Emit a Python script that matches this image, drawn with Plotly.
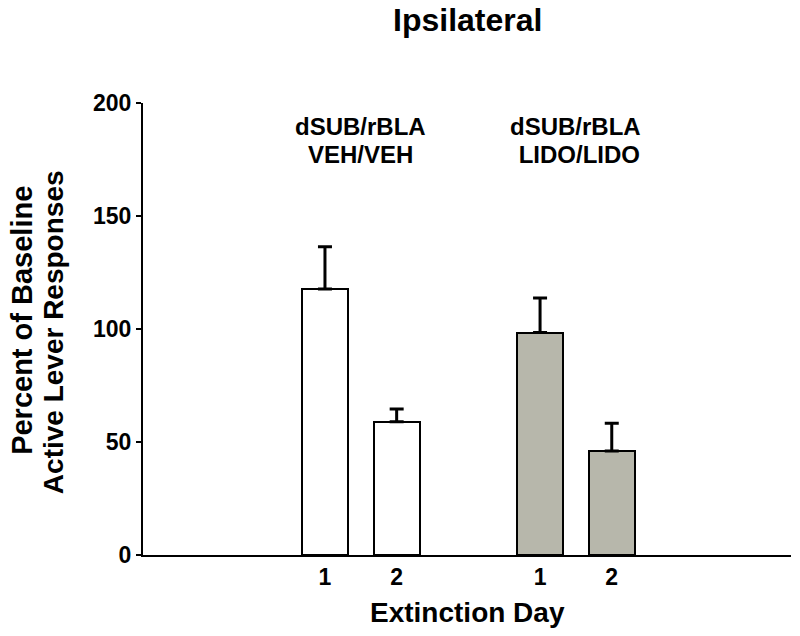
import plotly.graph_objects as go

# ---- data ----
group_line1 = ["dSUB/rBLA", "dSUB/rBLA"]
group_line2 = ["VEH/VEH", "\u00a0LIDO/LIDO"]
days = ["1", "2"]
veh_means = [117.7, 59.0]
veh_errs = [18.7, 5.6]
lido_means = [98.4, 46.0]
lido_errs = [15.3, 12.3]
y_ticks = [0, 50, 100, 150, 200]

FONT = "Liberation Sans, Arial, Helvetica, sans-serif"

# layout positions (group slots)
veh_pos = [1, 2]
lido_pos = [4, 5]

fig = go.Figure()

def add_bars(pos, means, errs, fill):
    fig.add_trace(go.Bar(
        x=pos, y=means, width=0.64,
        marker=dict(color=fill, line=dict(color="black", width=2)),
        error_y=dict(type="data", symmetric=False, array=errs,
                     arrayminus=[0] * len(errs), color="black",
                     thickness=3, width=7),
        showlegend=False, hoverinfo="skip",
    ))

add_bars(veh_pos, veh_means, veh_errs, "white")
add_bars(lido_pos, lido_means, lido_errs, "#b7b7ab")

def bold(size):
    return dict(family=FONT, size=size, color="black", weight="bold")

group_centers = [sum(veh_pos) / 2, sum(lido_pos) / 2]
for gx, l1, l2 in zip(group_centers, group_line1, group_line2):
    fig.add_annotation(x=gx, y=189.4, xref="x", yref="y", text=l1,
                       showarrow=False, font=bold(24))
    fig.add_annotation(x=gx, y=177.0, xref="x", yref="y", text=l2,
                       showarrow=False, font=bold(24))

# titles
fig.add_annotation(text="Ipsilateral", xref="paper", yref="paper", x=0.5, y=1,
                   yshift=103 - 20, showarrow=False, yanchor="middle", font=bold(32))
fig.add_annotation(text="Extinction Day", xref="paper", yref="paper", x=0.5, y=0,
                   yshift=-57, showarrow=False, yanchor="middle", font=bold(28))
fig.add_annotation(text="Percent of Baseline", xref="paper", yref="paper",
                   x=0, y=0.518, xshift=-143 + 22, showarrow=False, textangle=-90,
                   xanchor="center", yanchor="middle", font=bold(29))
fig.add_annotation(text="Active Lever Responses", xref="paper", yref="paper",
                   x=0, y=0.493, xshift=-143 + 53, showarrow=False, textangle=-90,
                   xanchor="center", yanchor="middle", font=bold(28))

fig.update_layout(
    width=800, height=636,
    margin=dict(l=143, r=9, t=103, b=81),
    paper_bgcolor="white", plot_bgcolor="white",
    bargap=0,
    xaxis=dict(range=[-1.538, 7.5], tickvals=veh_pos + lido_pos, ticktext=days + days,
               showline=True, linecolor="black", linewidth=2, ticks="",
               showgrid=False, zeroline=False, fixedrange=True, tickfont=bold(23)),
    yaxis=dict(range=[0, 200], tickvals=y_ticks, ticks="outside", ticklen=5, tickwidth=2,
               tickcolor="black", showline=True, linecolor="black", linewidth=2,
               showgrid=False, zeroline=False, fixedrange=True, tickfont=bold(23)),
)

fig.write_html("out.html", config={"displayModeBar": False},
               post_script="document.body.style.margin='0';document.body.style.padding='0';")
